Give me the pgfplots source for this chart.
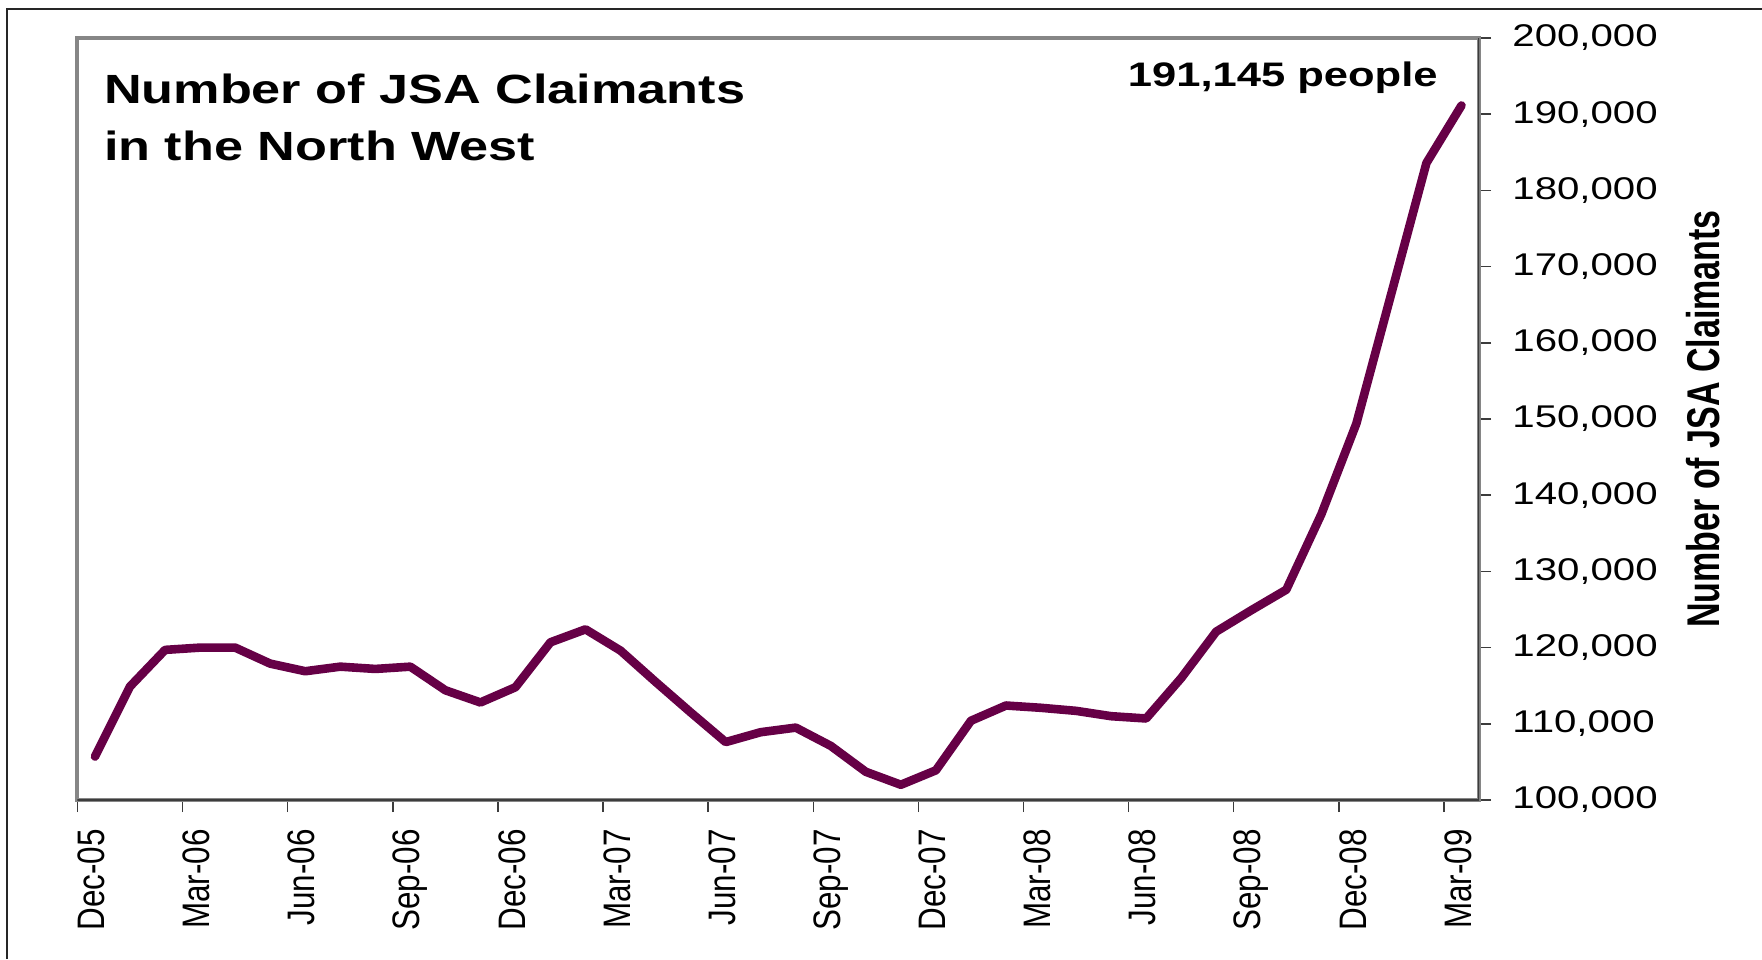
\documentclass[border=0pt]{standalone}
\usepackage{fontspec}
\setmainfont{Liberation Sans}[FakeStretch=1.28]
\newfontfamily\rotfont{Liberation Sans}
\usepackage{graphicx}
\usepackage{pgfplots}
\pgfplotsset{compat=1.18}
\usepackage{pgfplotstable}
\definecolor{jsaline}{RGB}{102,0,70}
\definecolor{plotgray}{RGB}{134,134,134}
\definecolor{axisdark}{RGB}{60,60,60}
\pgfplotstableread{
x y
0.5 105700
1.5 114900
2.5 119700
3.5 120000
4.5 120000
5.5 117900
6.5 116900
7.5 117500
8.5 117200
9.5 117500
10.5 114400
11.5 112800
12.5 114800
13.5 120700
14.5 122400
15.5 119600
16.5 115500
17.5 111500
18.5 107600
19.5 108900
20.5 109500
21.5 107100
22.5 103700
23.5 102000
24.5 103900
25.5 110400
26.5 112400
27.5 112100
28.5 111700
29.5 111000
30.5 110700
31.5 116000
32.5 122100
33.5 124900
34.5 127600
35.5 137500
36.5 149400
37.5 166500
38.5 183600
39.5 191145
}\jsadata
\newcommand{\xl}[1]{\scalebox{1}[1.22]{\rotfont #1}}
\begin{document}
\begin{tikzpicture}
\useasboundingbox (0,0) rectangle (881pt,-479.5pt);
\draw[line width=1pt, black!85] (3.5pt,-479.5pt) -- (3.5pt,-4.5pt) -- (881pt,-4.5pt);
\begin{axis}[
  at={(38.75pt,-19pt)}, anchor=north west,
  scale only axis, width=700.75pt, height=381pt,
  xmin=0, xmax=40, ymin=100000, ymax=200000,
  xtick={0,3,...,39},
  xticklabels={\xl{Dec-05},\xl{Mar-06},\xl{Jun-06},\xl{Sep-06},\xl{Dec-06},\xl{Mar-07},\xl{Jun-07},\xl{Sep-07},\xl{Dec-07},\xl{Mar-08},\xl{Jun-08},\xl{Sep-08},\xl{Dec-08},\xl{Mar-09}},
  ytick={100000,110000,...,200000},
  scaled y ticks=false,
  /pgf/number format/fixed,
  /pgf/number format/1000 sep={,},
  /pgf/number format/assume math mode=true,
  xtick pos=left, xticklabel pos=left,
  ytick pos=right, yticklabel pos=right,
  tick align=outside, major tick length=6pt,
  tick style={draw=axisdark, line width=0.75pt},
  axis line style={draw=plotgray, line width=2pt},
  tick label style={font=\fontsize{15.7}{18}\selectfont},
  yticklabel style={anchor=west, inner sep=0pt, xshift=10.5pt},
  xticklabel style={yshift=-8.5pt, rotate=90, anchor=north east, inner sep=0pt},
  ylabel={\scalebox{1}[1.35]{\rotfont\bfseries\fontsize{17}{20}\selectfont Number of JSA Claimants}},
  ylabel style={at={(axis description cs:1.1598,0.5)}, anchor=center, inner sep=0pt},
]
\addplot[jsaline, line width=4.3pt, line join=round, line cap=round] table[x=x, y=y] {\jsadata};
\draw[axisdark, line width=1pt] (rel axis cs:0,0) -- (rel axis cs:1,0) -- (rel axis cs:1,1);
\end{axis}
\node[anchor=base west, inner sep=0pt, font=\bfseries\fontsize{20.4}{24}\selectfont] at (51.8pt,-51.5pt) {Number of JSA Claimants};
\node[anchor=base west, inner sep=0pt, font=\bfseries\fontsize{20.4}{24}\selectfont] at (51.8pt,-80pt) {in the North West};
\node[anchor=base east, inner sep=0pt, font=\bfseries\fontsize{17}{20}\selectfont] at (719pt,-43.25pt) {191,145 people};
\end{tikzpicture}
\end{document}
